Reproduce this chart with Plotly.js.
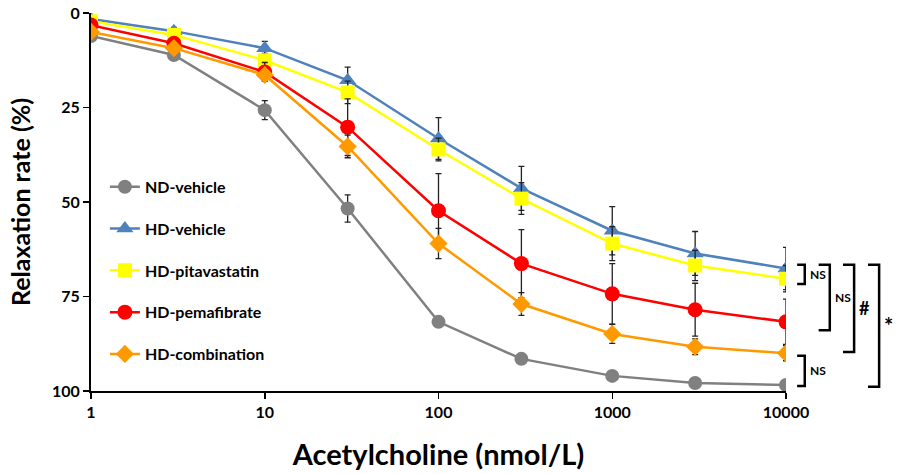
<!DOCTYPE html>
<html>
<head>
<meta charset="utf-8">
<script src="https://cdn.plot.ly/plotly-3.0.1.min.js"></script>
<style>html,body{margin:0;padding:0;background:#fff;}#chart{width:898px;height:474px;}</style>
</head>
<body>
<div id="chart"></div>
<script>
// Acetylcholine concentrations (nmol/L)
const doses = [1, 3, 10, 30, 100, 300, 1000, 3000, 10000];

const seriesNames = ["ND-vehicle", "HD-vehicle", "HD-pitavastatin", "HD-pemafibrate", "HD-combination"];

// Relaxation rate (%) means
const ndVehicle      = [6.1, 11.1, 25.7, 51.7, 81.7, 91.5, 96.0, 97.9, 98.4];
const hdVehicle      = [1.6, 4.8, 9.3, 17.8, 33.2, 46.4, 57.6, 63.6, 67.6];
const hdPitavastatin = [2.2, 5.8, 12.5, 21.0, 36.1, 49.1, 61.0, 66.8, 70.3];
const hdPemafibrate  = [3.2, 8.0, 15.6, 30.2, 52.3, 66.3, 74.3, 78.5, 81.7];
const hdCombination  = [5.0, 9.3, 16.4, 35.3, 61.0, 77.0, 84.9, 88.3, 90.0];

// Error (SEM) values
const ndVehicleErr      = [0.6, 1.0, 2.5, 3.6, 1.0, 0.8, 0.6, 0.5, 0.4];
const hdVehicleErr      = [0.5, 1.0, 1.8, 3.5, 5.5, 5.8, 6.4, 5.8, 5.6];
const hdPitavastatinErr = [0.5, 1.0, 1.8, 3.0, 3.0, 4.2, 4.5, 4.0, 3.5];
const hdPemafibrateErr  = [0.6, 1.2, 2.5, 7.5, 9.8, 9.0, 8.0, 7.0, 6.0];
const hdCombinationErr  = [0.5, 1.0, 1.5, 3.0, 4.0, 3.0, 2.5, 2.1, 2.0];

const colors  = ["#808080", "#4F81BD", "#FFFF00", "#FF0000", "#FF9900"];
const symbols = ["circle", "triangle-up", "square", "circle", "diamond"];
const sizes   = [14, 15, 14, 15, 14];

const means = [ndVehicle, hdVehicle, hdPitavastatin, hdPemafibrate, hdCombination];
const errs  = [ndVehicleErr, hdVehicleErr, hdPitavastatinErr, hdPemafibrateErr, hdCombinationErr];

const FONT = "Lato, 'Open Sans', sans-serif";

const traces = means.map((m, i) => ({
  x: doses,
  y: m,
  name: seriesNames[i],
  legendgroup: "g" + i,
  type: "scatter",
  mode: "lines+markers",
  line: {color: colors[i], width: 2.5},
  marker: {color: colors[i], symbol: symbols[i], size: sizes[i]},
  error_y: {type: "data", array: errs[i], visible: true, color: "#222", thickness: 1.3, width: 3}
}));

// significance brackets between series end values
const last = arr => arr[arr.length - 1];
const brackets = [
  {top: 1, bot: 2, label: "NS", x: 1.016, w: 0.011, tp: -1.0, bp: 1.4, size: 12},
  {top: 1, bot: 3, label: "NS", x: 1.047, w: 0.016, tp: -1.0, bp: 2.2, size: 12},
  {top: 1, bot: 4, label: "#",  x: 1.082, w: 0.016, tp: -1.0, bp: -0.3, size: 18},
  {top: 1, bot: 0, label: "*",  x: 1.118, w: 0.016, tp: -1.0, bp: 0.5, size: 22},
  {top: 4, bot: 0, label: "NS", x: 1.016, w: 0.011, tp: 0.7, bp: 0.3, size: 12}
];

const shapes = [];
const annotations = [];
brackets.forEach(b => {
  const y0 = last(means[b.top]) + b.tp;
  const y1 = last(means[b.bot]) + b.bp;
  const xl = b.x, xr = b.x + b.w;
  shapes.push({
    type: "path", xref: "paper", yref: "y",
    path: `M ${xl},${y0} L ${xr},${y0} L ${xr},${y1} L ${xl},${y1}`,
    line: {color: "#000", width: 2.5}
  });
  annotations.push({
    xref: "paper", yref: "y", x: xr + 0.004, y: (y0 + y1) / 2,
    xanchor: "left", yanchor: "middle", showarrow: false,
    text: "<b>" + b.label + "</b>",
    font: {family: FONT, size: b.size, color: "#000"}
  });
});

const layout = {
  width: 898, height: 474,
  margin: {l: 91, r: 112, t: 13, b: 83},
  paper_bgcolor: "#fff", plot_bgcolor: "#fff",
  showlegend: true,
  legend: {
    x: 0.02, y: 0.585, xanchor: "left", yanchor: "top",
    bgcolor: "rgba(0,0,0,0)", traceorder: "grouped", tracegroupgap: 18,
    font: {family: FONT, size: 16, color: "#000", weight: "bold"}
  },
  xaxis: {
    type: "log", range: [0, 4],
    tickvals: [1, 10, 100, 1000, 10000],
    ticktext: ["1", "10", "100", "1000", "10000"],
    ticks: "outside", ticklen: 6, tickwidth: 1.5, tickcolor: "#000",
    showline: true, linecolor: "#000", linewidth: 2,
    showgrid: false, zeroline: false,
    tickfont: {family: FONT, size: 16, color: "#000", weight: "bold"},
    title: {text: "<b>Acetylcholine (nmol/L)</b>", font: {family: FONT, size: 29, color: "#000"}, standoff: 24}
  },
  yaxis: {
    range: [100, 0],
    tickvals: [0, 25, 50, 75, 100],
    ticks: "outside", ticklen: 6, tickwidth: 1.5, tickcolor: "#000",
    showline: true, linecolor: "#000", linewidth: 2,
    showgrid: false, zeroline: false,
    tickfont: {family: FONT, size: 16, color: "#000", weight: "bold"},
    title: {text: "<b>Relaxation rate (%)</b>", font: {family: FONT, size: 25, color: "#000"}, standoff: 14}
  },
  shapes: shapes,
  annotations: annotations
};

Plotly.newPlot("chart", traces, layout, {displayModeBar: false, staticPlot: true});
</script>
</body>
</html>
